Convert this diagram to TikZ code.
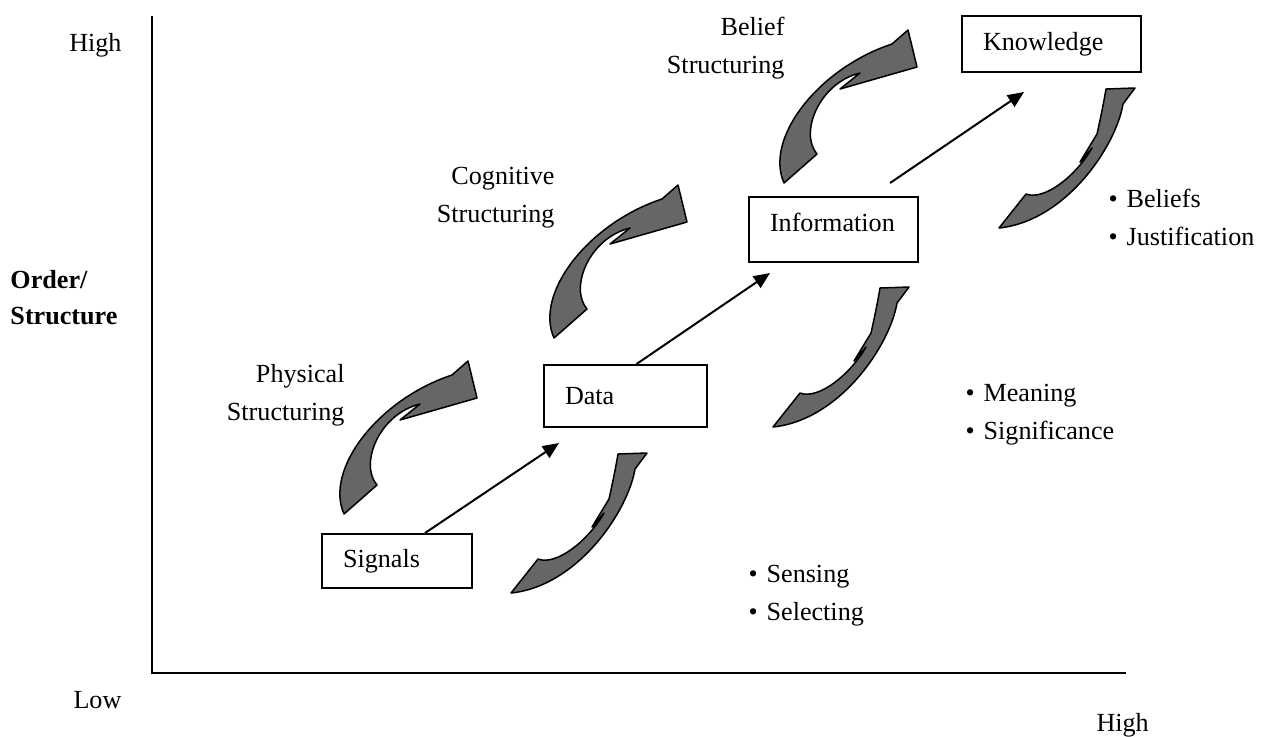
\documentclass[tikz,border=0pt]{standalone}
\usepackage{fontspec}
\setmainfont{Liberation Serif}
\usepackage{tikz}
\usetikzlibrary{arrows.meta}
\definecolor{ribbongray}{RGB}{102,102,102}
\tikzset{
	ribbon/.style={fill=ribbongray, draw=black, line width=0.6pt, line join=round},
	stagebox/.style={draw, line width=0.8pt, rectangle, anchor=north west, align=left, inner xsep=8.4pt, inner ysep=0pt},
	flowarrow/.style={line width=0.8pt, -{Triangle[length=6.5pt, width=5.5pt]}},
	axisline/.style={line width=0.8pt},
	plainlbl/.style={inner sep=0pt}
}
% curled arrow on the left of each step
\newcommand{\bendArrow}[2]{
	\draw[ribbon] (#1,#2) .. controls (#1-20,#2-45) and (#1+35,#2-115) .. (#1+108,#2-139)
		-- (#1+124,#2-153) -- (#1+133,#2-116) -- (#1+56,#2-94) -- (#1+76,#2-110)
		.. controls (#1+35,#2-100) and (#1+15,#2-50) .. (#1+33,#2-29) -- cycle;
}
% thin twisted arrow on the right of each step
\newcommand{\twistArrow}[2]{
	\draw[ribbon] (#1+107,#2-139) -- (#1+136,#2-140) -- (#1+124,#2-124)
		.. controls (#1+117,#2-82) and (#1+67,#2-7) .. (#1,#2)
		-- (#1+27,#2-34) .. controls (#1+45,#2-27) and (#1+77,#2-52) .. (#1+93,#2-80)
		-- (#1+81,#2-66) -- (#1+98,#2-94)
		.. controls (#1+102,#2-112) and (#1+105,#2-127) .. (#1+107,#2-139) -- cycle;
}
\newcommand{\bitem}[1]{\textbullet\hspace{3.6pt}#1}

\begin{document}
\begin{tikzpicture}[x=0.4pt, y=-0.4pt, font=\fontsize{10.45}{15}\selectfont]
	\useasboundingbox (0,0) rectangle (1270,736);
	% axes
	\draw[axisline] (152,16) -- (152,673) -- (1126,673);
	\node[plainlbl, anchor=base east] (yHigh) at (122,51) {High};
	\node[plainlbl, anchor=base west] (yLow) at (73,708) {Low};
	\node[plainlbl, anchor=base west] (xHigh) at (1096,731) {High};
	\node[plainlbl, anchor=north west, align=left, font=\fontsize{10.45}{14.4}\selectfont\bfseries] (orderLbl) at (10,270) {Order/\\Structure};

	% stages
	\node[stagebox, text width=43.2pt, minimum height=21.6pt] (signals) at (321,533) {Signals};
	\node[stagebox, text width=48.4pt, minimum height=24.8pt] (data) at (543,364) {Data};
	\node[stagebox, text width=50.8pt, minimum height=26pt, text depth=5.6pt] (info) at (748,196) {Information};
	\node[stagebox, text width=54.8pt, minimum height=22.4pt] (know) at (961,15) {Knowledge};

	\coordinate (dataIn) at (559,443);
	\coordinate (infoIn) at (770,273);
	\coordinate (infoOut) at (890,183);
	\coordinate (knowIn) at (1024,92);
	\draw[flowarrow] (signals.45) -- (dataIn);
	\draw[flowarrow] (data.71) -- (infoIn);
	\draw[flowarrow] (infoOut) -- (knowIn);

	% structuring arrows
	\bendArrow{344}{514}
	\bendArrow{554}{338}
	\bendArrow{784}{183}
	\node[plainlbl, anchor=north east, align=right] (physLbl) at (345,364) {Physical\\Structuring};
	\node[plainlbl, anchor=north east, align=right] (cogLbl) at (555,167) {Cognitive\\Structuring};
	\node[plainlbl, anchor=north east, align=right] (beliefLbl) at (785,17) {Belief\\Structuring};

	% processes
	\twistArrow{511}{593}
	\twistArrow{773}{427}
	\twistArrow{999}{228}
	\node[plainlbl, anchor=north west, align=left] (senseList) at (748,565) {\bitem{Sensing}\\\bitem{Selecting}};
	\node[plainlbl, anchor=north west, align=left] (meanList) at (965,384) {\bitem{Meaning}\\\bitem{Significance}};
	\node[plainlbl, anchor=north west, align=left] (beliefList) at (1108,189) {\bitem{Beliefs}\\\bitem{Justification}};
\end{tikzpicture}
\end{document}
